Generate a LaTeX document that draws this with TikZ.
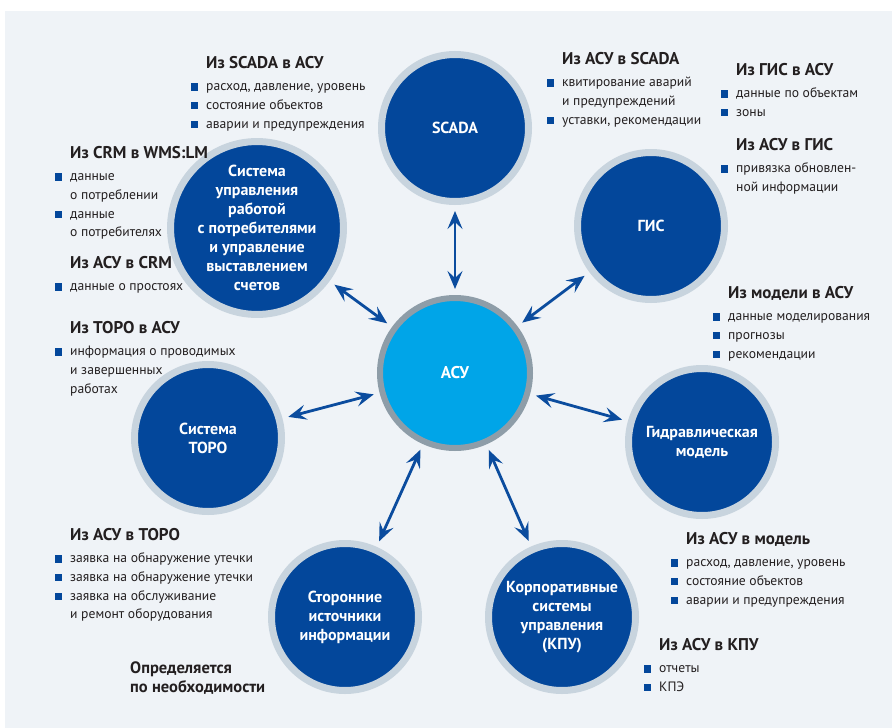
\documentclass[tikz,border=0pt]{standalone}
\usepackage{fontspec}
\setmainfont{PT Sans}
\usetikzlibrary{arrows.meta}
\definecolor{bg}{HTML}{EFF3F7}
\definecolor{dkblue}{HTML}{03479B}
\definecolor{ringc}{HTML}{C8D4DE}
\definecolor{asufill}{HTML}{00A5E8}
\definecolor{asuring}{HTML}{8E9DA8}
\definecolor{arrc}{HTML}{0B4C9E}
\definecolor{txt}{HTML}{231F20}
\newcommand\tf{\fontsize{17}{19}\selectfont\bfseries}
\newcommand\itf{\fontsize{13.6}{19}\selectfont}
\newcommand\bsq{\llap{\textcolor{dkblue}{\rule{7.5pt}{7.5pt}}\hspace{8pt}}}
\newcommand\blk[2]{\vtop{\baselineskip=18.8pt\lineskiplimit=-100pt\lineskip=0pt\hbox{\tf #1}\vskip3.7pt #2}}
\newcommand\bi[1]{\hbox{\itf\bsq #1}}
\newcommand\ci[1]{\hbox{\itf #1}}
\tikzset{
  sat/.style={circle, fill=dkblue, draw=ringc, line width=7pt, minimum size=147pt, inner sep=0pt,
    text=white, align=center, font=\fontsize{16}{19}\selectfont\bfseries},
  hub/.style={circle, fill=asufill, draw=asuring, line width=6pt, minimum size=150pt, inner sep=0pt,
    text=white, align=center, font=\fontsize{17}{19}\selectfont\bfseries},
  conn/.style={arrc, line width=2.8pt, {Stealth[length=18pt,width=15pt,inset=7pt]}-{Stealth[length=18pt,width=15pt,inset=7pt]}, shorten <=6pt, shorten >=6pt},
  blockn/.style={anchor=base west, inner sep=0pt, text=txt}
}
\begin{document}
\begin{tikzpicture}[x=1pt,y=-1pt]
\useasboundingbox (0,0) rectangle (892,728);
\fill[bg] (5,11) rectangle (892,728);
% circles
\node[hub] (asu) at (455,373) {АСУ};
\node[sat] (scada) at (455,128) {SCADA};
\node[sat] (gis) at (651,226) {ГИС};
\node[sat] (crm) at (257,228) {Система\\управления\\работой\\с потребителями\\и управление\\выставлением\\счетов};
\node[sat] (toro) at (208,438) {Система\\ТОРО};
\node[sat] (gidr) at (702,442) {Гидравлическая\\модель};
\node[sat] (stor) at (345,617) {Сторонние\\источники\\информации};
\node[sat] (kpu) at (562,617) {Корпоративные\\системы\\управления\\(КПУ)};
% connectors
\foreach \n in {scada,gis,crm,toro,gidr,stor,kpu} \draw[conn] (asu) -- (\n);
% text blocks
\node[blockn] (b1) at (206,68) {\blk{Из SCADA в АСУ}{\bi{расход, давление, уровень}\bi{состояние объектов}\bi{аварии и предупреждения}}};
\node[blockn] (b2) at (562,64) {\blk{Из АСУ в SCADA}{\bi{квитирование аварий}\ci{и предупреждений}\bi{уставки, рекомендации}}};
\node[blockn] (b3) at (736,75) {\blk{Из ГИС в АСУ}{\bi{данные по объектам}\bi{зоны}}};
\node[blockn] (b4) at (736,150) {\blk{Из АСУ в ГИС}{\bi{привязка обновлен-}\ci{ной информации}}};
\node[blockn] (b5) at (70,158) {\blk{Из CRM в WMS:LM}{\bi{данные}\ci{о потреблении}\bi{данные}\ci{о потребителях}}};
\node[blockn] (b6) at (70,268) {\blk{Из АСУ в CRM}{\bi{данные о простоях}}};
\node[blockn] (b7) at (70,333) {\blk{Из ТОРО в АСУ}{\bi{информация о проводимых}\ci{и завершенных}\ci{работах}}};
\node[blockn] (b8) at (728,298) {\blk{Из модели в АСУ}{\bi{данные моделирования}\bi{прогнозы}\bi{рекомендации}}};
\node[blockn] (b9) at (70,540) {\blk{Из АСУ в ТОРО}{\bi{заявка на обнаружение утечки}\bi{заявка на обнаружение утечки}\bi{заявка на обслуживание}\ci{и ремонт оборудования}}};
\node[blockn] (b10) at (686,544) {\blk{Из АСУ в модель}{\bi{расход, давление, уровень}\bi{состояние объектов}\bi{аварии и предупреждения}}};
\node[blockn] (b11) at (659,650) {\blk{Из АСУ в КПУ}{\bi{отчеты}\bi{КПЭ}}};
\node[blockn] (b12) at (130,673) {\vtop{\baselineskip=19pt\lineskiplimit=-100pt\hbox{\fontsize{16.5}{19}\selectfont\bfseries Определяется}\hbox{\fontsize{16.5}{19}\selectfont\bfseries по необходимости}}};
\end{tikzpicture}
\end{document}
